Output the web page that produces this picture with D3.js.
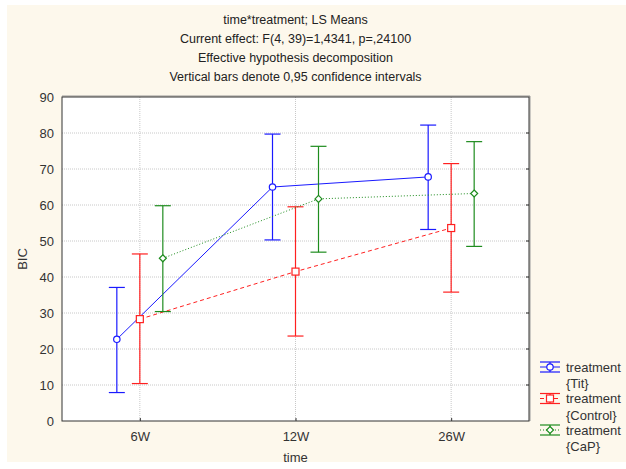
<!DOCTYPE html>
<html>
<head>
<meta charset="utf-8">
<script src="https://cdn.jsdelivr.net/npm/d3@7"></script>
<style>
  body { margin: 0; background: #fff; }
  svg { display: block; font-family: "Liberation Sans", Arial, sans-serif; }
</style>
</head>
<body>
<script>
"use strict";

// LS means with 0.95 confidence intervals
const times = ["6W", "12W", "26W"];
const yTicks = [0, 10, 20, 30, 40, 50, 60, 70, 80, 90];
const titleLines = [
  "time*treatment; LS Means",
  "Current effect: F(4, 39)=1,4341, p=,24100",
  "Effective hypothesis decomposition",
  "Vertical bars denote 0,95 confidence intervals"
];

const titMean = [22.7, 65.0, 67.8];
const titLow = [7.9, 50.3, 53.2];
const titHigh = [37.1, 79.7, 82.2];

const controlMean = [28.3, 41.5, 53.6];
const controlLow = [10.4, 23.6, 35.8];
const controlHigh = [46.4, 59.5, 71.5];

const capMean = [45.2, 61.7, 63.2];
const capLow = [30.4, 46.9, 48.5];
const capHigh = [59.8, 76.3, 77.6];

const series = [
  {name: "Tit", mean: titMean, low: titLow, high: titHigh, color: "#1a1aff", dash: null, marker: "circle", offset: -23},
  {name: "Control", mean: controlMean, low: controlLow, high: controlHigh, color: "#ff2020", dash: "4,3", marker: "square", offset: 0},
  {name: "CaP", mean: capMean, low: capLow, high: capHigh, color: "#1e8c1e", dash: "1,2", marker: "diamond", offset: 23}
];

const width = 626, height = 469;
const margin = {left: 62, right: 97, top: 97, bottom: 48};
const plotW = width - margin.left - margin.right;
const plotH = height - margin.top - margin.bottom;

const svg = d3.select("body").append("svg")
    .attr("width", width)
    .attr("height", height);

svg.append("rect")
    .attr("x", 7).attr("y", 5)
    .attr("width", width - 7).attr("height", 457)
    .attr("fill", "#fdf8ec");

const x = d3.scalePoint().domain(times).range([0, plotW]).padding(0.5);
const y = d3.scaleLinear().domain([0, 90]).range([plotH, 0]);

const g = svg.append("g")
    .attr("transform", `translate(${margin.left},${margin.top})`);

g.append("rect")
    .attr("width", plotW).attr("height", plotH)
    .attr("fill", "#fff");

// grid
g.append("g").selectAll("line")
  .data(yTicks.slice(1, -1))
  .join("line")
    .attr("x1", 0).attr("x2", plotW)
    .attr("y1", d => y(d)).attr("y2", d => y(d))
    .attr("stroke", "#c8c8c8")
    .attr("stroke-dasharray", "1,1");
g.append("g").selectAll("line")
  .data(times)
  .join("line")
    .attr("x1", d => x(d)).attr("x2", d => x(d))
    .attr("y1", 0).attr("y2", plotH)
    .attr("stroke", "#c8c8c8")
    .attr("stroke-dasharray", "1,1");

// right-hand ticks
g.append("g").selectAll("line")
  .data(yTicks.slice(1, -1))
  .join("line")
    .attr("x1", plotW - 3).attr("x2", plotW)
    .attr("y1", d => y(d)).attr("y2", d => y(d))
    .attr("stroke", "#222");

// frame with a grey shade on top and right
g.append("line").attr("x1", 0).attr("x2", plotW + 1).attr("y1", -1).attr("y2", -1).attr("stroke", "#999");
g.append("line").attr("x1", plotW + 1).attr("x2", plotW + 1).attr("y1", -1).attr("y2", plotH).attr("stroke", "#999");
g.append("rect")
    .attr("x", 0).attr("y", 0)
    .attr("width", plotW).attr("height", plotH)
    .attr("fill", "none")
    .attr("stroke", "#333");

// axes
const yAxis = g.append("g")
    .call(d3.axisLeft(y).tickValues(yTicks).tickSize(0).tickPadding(8));
yAxis.select(".domain").remove();
yAxis.selectAll("text").attr("font-size", 13).attr("fill", "#333").attr("font-family", null);

const xAxis = g.append("g")
    .attr("transform", `translate(0,${plotH})`)
    .call(d3.axisBottom(x).tickSize(3).tickPadding(8));
xAxis.select(".domain").remove();
xAxis.selectAll("line").attr("y1", -3).attr("y2", 0).attr("stroke", "#333");
xAxis.selectAll("text").attr("font-size", 13).attr("fill", "#333").attr("font-family", null);

g.append("text")
    .attr("x", plotW / 2).attr("y", plotH + 41)
    .attr("text-anchor", "middle")
    .attr("font-size", 13).attr("fill", "#333")
    .text("time");

g.append("text")
    .attr("transform", `translate(-35,${plotH / 2}) rotate(-90)`)
    .attr("text-anchor", "middle")
    .attr("font-size", 13).attr("fill", "#333")
    .text("BIC");

svg.append("g").selectAll("text")
  .data(titleLines)
  .join("text")
    .attr("x", margin.left + plotW / 2)
    .attr("y", (d, i) => 24 + i * 19)
    .attr("text-anchor", "middle")
    .attr("font-size", 12.5).attr("fill", "#222")
    .text(d => d);

function drawMarker(sel, s, cx, cy) {
  if (s.marker === "circle") {
    sel.append("circle").attr("cx", cx).attr("cy", cy).attr("r", 3.2)
      .attr("fill", "#fff").attr("stroke", s.color).attr("stroke-width", 1.2);
  } else if (s.marker === "square") {
    sel.append("rect").attr("x", cx - 3.5).attr("y", cy - 3.5).attr("width", 7).attr("height", 7)
      .attr("fill", "#fff").attr("stroke", s.color).attr("stroke-width", 1.2);
  } else {
    sel.append("path").attr("d", `M${cx},${cy - 3.5}L${cx + 3.5},${cy}L${cx},${cy + 3.5}L${cx - 3.5},${cy}Z`)
      .attr("fill", "#fff").attr("stroke", s.color).attr("stroke-width", 1.2);
  }
}

const capHalf = 8;
for (const s of series) {
  const sg = g.append("g");
  const px = i => x(times[i]) + s.offset;
  sg.append("path")
    .datum(s.mean)
    .attr("d", d3.line().x((d, i) => px(i)).y(d => y(d)))
    .attr("fill", "none")
    .attr("stroke", s.color)
    .attr("stroke-width", 1)
    .attr("stroke-dasharray", s.dash);
  s.mean.forEach((m, i) => {
    const cx = px(i);
    sg.append("line").attr("x1", cx).attr("x2", cx)
      .attr("y1", y(s.low[i])).attr("y2", y(s.high[i]))
      .attr("stroke", s.color).attr("stroke-width", 1.2);
    for (const v of [s.low[i], s.high[i]]) {
      sg.append("line").attr("x1", cx - capHalf).attr("x2", cx + capHalf)
        .attr("y1", y(v)).attr("y2", y(v))
        .attr("stroke", s.color).attr("stroke-width", 1.2);
    }
    drawMarker(sg, s, cx, y(m));
  });
}

// legend
const legend = svg.append("g");
series.forEach((s, i) => {
  const ly = 367 + i * 31.5;
  const lx = 550;
  legend.append("line").attr("x1", lx - 10).attr("x2", lx + 10).attr("y1", ly).attr("y2", ly)
    .attr("stroke", s.color).attr("stroke-dasharray", s.dash);
  legend.append("line").attr("x1", lx - 10).attr("x2", lx + 10).attr("y1", ly - 5).attr("y2", ly - 5)
    .attr("stroke", s.color).attr("stroke-width", 1.2);
  legend.append("line").attr("x1", lx - 10).attr("x2", lx + 10).attr("y1", ly + 5).attr("y2", ly + 5)
    .attr("stroke", s.color).attr("stroke-width", 1.2);
  legend.append("line").attr("x1", lx).attr("x2", lx).attr("y1", ly - 5).attr("y2", ly + 5)
    .attr("stroke", s.color).attr("stroke-width", 1.2);
  drawMarker(legend, s, lx, ly);
  legend.append("text").attr("x", 566).attr("y", ly + 4.5)
    .attr("font-size", 13).attr("fill", "#333").text("treatment");
  legend.append("text").attr("x", 566).attr("y", ly + 21)
    .attr("font-size", 13).attr("fill", "#333").text(`{${s.name}}`);
});
</script>
</body>
</html>
